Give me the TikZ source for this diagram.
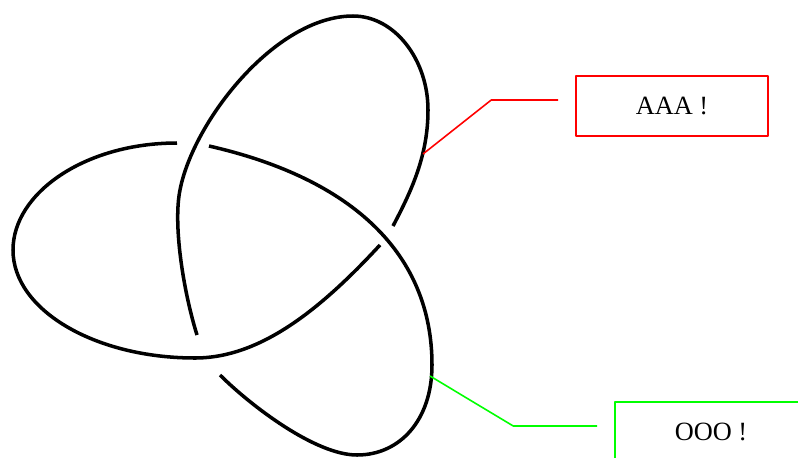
\documentclass[tikz,border=0pt]{standalone}
\usepackage{fontspec}
\setmainfont{Liberation Serif}
\usepackage{tikz}
\usetikzlibrary{calc,positioning}

\begin{document}
\begin{tikzpicture}[x=0.02cm,y=-0.02cm,line join=round]
  \tikzstyle{strand}=[line width=2pt]
  \tikzstyle{note}=[draw,line width=0.9pt,minimum width=3.84cm,minimum height=1.2cm,font=\fontsize{15}{18}\selectfont]
  \tikzstyle{lead}=[line width=0.9pt]
  \clip (0,0) rectangle (798,457);
  % the three strands of the knot, each from gap to gap
  \draw[strand] (209,146) .. controls (354,179) and (432,255) .. (432,365)
    .. controls (432,420) and (400,455) .. (357,455)
    .. controls (315,455) and (250,405) .. (220,375);
  \draw[strand] (197,335) .. controls (183,290) and (173,224) .. (180,190)
    .. controls (193,122) and (275,16) .. (353,16)
    .. controls (395,16) and (428,60) .. (428,110)
    .. controls (428,155) and (412,190) .. (393,226);
  \draw[strand] (380,245) .. controls (320,310) and (260,358) .. (195,358)
    .. controls (95,358) and (13,310) .. (13,250)
    .. controls (13,193) and (85,143) .. (177,143);
  % callouts
  \coordinate (tipA) at (423,154);
  \coordinate (tipO) at (430,376);
  \node[note,draw=red] (aaa) at (672,106) {AAA !};
  \node[note,draw=green] (ooo) at (711,432) {OOO !};
  \draw[lead,red] (tipA) -- ($(aaa.west)+(-84,-6)$) -- ($(aaa.west)+(-17,-6)$);
  \draw[lead,green] (tipO) -- ($(ooo.west)+(-101,-6)$) -- ($(ooo.west)+(-17,-6)$);
\end{tikzpicture}
\end{document}
